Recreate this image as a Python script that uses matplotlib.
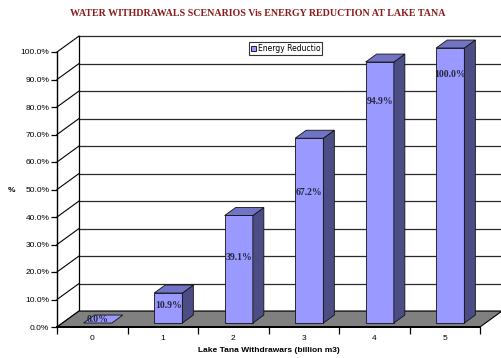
import numpy as np
import matplotlib.pyplot as plt
from matplotlib.patches import Polygon, Patch

# Energy reduction (%) for each withdrawal scenario
withdrawals = [0, 1, 2, 3, 4, 5]
reduction = [0.0, 10.9, 39.1, 67.2, 94.9, 100.0]
y_ticks = np.arange(0, 101, 10)

# how far below each bar top its value label sits (percent units)
label_drop = [0.0, 4.4, 15.1, 19.9, 14.2, 9.5]

FRONT = '#9999FF'
TOP = '#7373C6'
SIDE = '#4D4D85'
FLOOR = '#808080'

# depth of the 3-D box in data units (x in categories, y in percent)
DX, DY = 0.312, 5.8
BAR_W = 0.40
BAR_D0, BAR_D1 = 0.25, 0.75

fig = plt.figure(figsize=(5.01, 3.58), dpi=100, facecolor='white')
ax = fig.add_axes([57 / 501, 31 / 358, 423 / 501, 275 / 358])
ax.set_xlim(-0.5, 5.5)
ax.set_ylim(0, 100)
ax.patch.set_visible(False)

x_left, x_right = -0.5, 5.5
wall_right = 5.9

# back wall and its gridlines, plus the slanted lines on the side wall
ax.add_patch(Polygon([(x_left + DX, DY), (wall_right, DY), (wall_right, 100 + DY),
                      (x_left + DX, 100 + DY)], closed=True, facecolor='white',
                     edgecolor='none', zorder=0, clip_on=False))
for v in y_ticks:
    ax.plot([x_left + DX, wall_right], [v + DY, v + DY], color='#2a2a2a', lw=0.9,
            zorder=1, clip_on=False)
    ax.plot([x_left, x_left + DX], [v, v + DY], color='black', lw=0.8,
            zorder=1, clip_on=False)
ax.plot([x_left + DX, x_left + DX], [DY, 100 + DY], color='black', lw=0.9,
        zorder=1, clip_on=False)

# floor
ax.add_patch(Polygon([(x_left, 0), (x_right, 0), (x_right + DX, DY), (x_left + DX, DY)],
                     closed=True, facecolor=FLOOR, edgecolor='black', lw=0.8,
                     zorder=2, clip_on=False))

# 3-D bars
for xc, v, drop in zip(withdrawals, reduction, label_drop):
    x0 = xc - BAR_W / 2 + BAR_D0 * DX
    x1 = xc + BAR_W / 2 + BAR_D0 * DX
    b = BAR_D0 * DY
    t = v + BAR_D0 * DY
    ddx, ddy = (BAR_D1 - BAR_D0) * DX, (BAR_D1 - BAR_D0) * DY
    if v > 0:
        ax.add_patch(Polygon([(x0, b), (x1, b), (x1, t), (x0, t)], closed=True,
                             facecolor=FRONT, edgecolor='#111111', lw=0.6, zorder=3,
                             clip_on=False))
        ax.add_patch(Polygon([(x1, b), (x1 + ddx, b + ddy), (x1 + ddx, t + ddy), (x1, t)],
                             closed=True, facecolor=SIDE, edgecolor='#111111', lw=0.6,
                             zorder=3, clip_on=False))
        top_color = TOP
        ty = t - drop
    else:
        top_color = FRONT
        ty = t + ddy * 0.5
    ax.add_patch(Polygon([(x0, t), (x1, t), (x1 + ddx, t + ddy), (x0 + ddx, t + ddy)],
                         closed=True, facecolor=top_color, edgecolor='#111111', lw=0.6,
                         zorder=3, clip_on=False))
    ax.text((x0 + x1) / 2, ty, f'{v:.1f}%', ha='center', va='center',
            fontsize=7, fontweight='bold', family='Liberation Serif',
            color='#26263a', zorder=4, clip_on=False)

# axes: left spine and floor front edge
for s in ['top', 'right']:
    ax.spines[s].set_visible(False)
ax.spines['left'].set_linewidth(1.0)
ax.spines['bottom'].set_linewidth(1.4)
ax.spines['left'].set_zorder(5)
ax.spines['bottom'].set_zorder(5)

ax.set_yticks(y_ticks)
ax.set_yticklabels([f'{v:.1f}%' for v in y_ticks], fontsize=6, family='Liberation Sans')
ax.tick_params(axis='y', length=4, width=0.9, pad=1.5)

ax.set_xticks(np.arange(-0.5, 5.6, 1.0))
ax.set_xticklabels([])
ax.set_xticks(withdrawals, minor=True)
ax.set_xticklabels([str(w) for w in withdrawals], minor=True, fontsize=6,
                   family='Liberation Sans')
ax.tick_params(axis='x', which='major', length=5, width=0.9)
ax.tick_params(axis='x', which='minor', length=0, pad=6)

ax.set_xlabel('Lake Tana Withdrawars (billion m3)', fontsize=6, fontweight='bold',
              family='Liberation Sans', labelpad=3)
fig.text(12 / 501, 1 - 191 / 358, '%', fontsize=6, fontweight='bold',
         family='Liberation Sans', ha='center', va='center')

fig.text(258 / 501, 1 - 13 / 358,
         'WATER WITHDRAWALS SCENARIOS Vis ENERGY REDUCTION AT LAKE TANA',
         fontsize=7.2, fontweight='bold', family='Liberation Serif', color='#8B1A1A',
         ha='center', va='center')

leg = ax.legend(handles=[Patch(facecolor=FRONT, edgecolor='black', lw=0.6)],
                labels=['Energy Reductio'], loc='upper left',
                bbox_to_anchor=(0.454, 1.035), fontsize=5.5, frameon=True,
                fancybox=False, edgecolor='black', borderpad=0.25,
                handlelength=0.6, handleheight=0.6, handletextpad=0.3,
                borderaxespad=0)
leg.get_frame().set_linewidth(0.8)
leg.set_zorder(6)

fig.savefig('out.png', dpi=100, facecolor='white')
